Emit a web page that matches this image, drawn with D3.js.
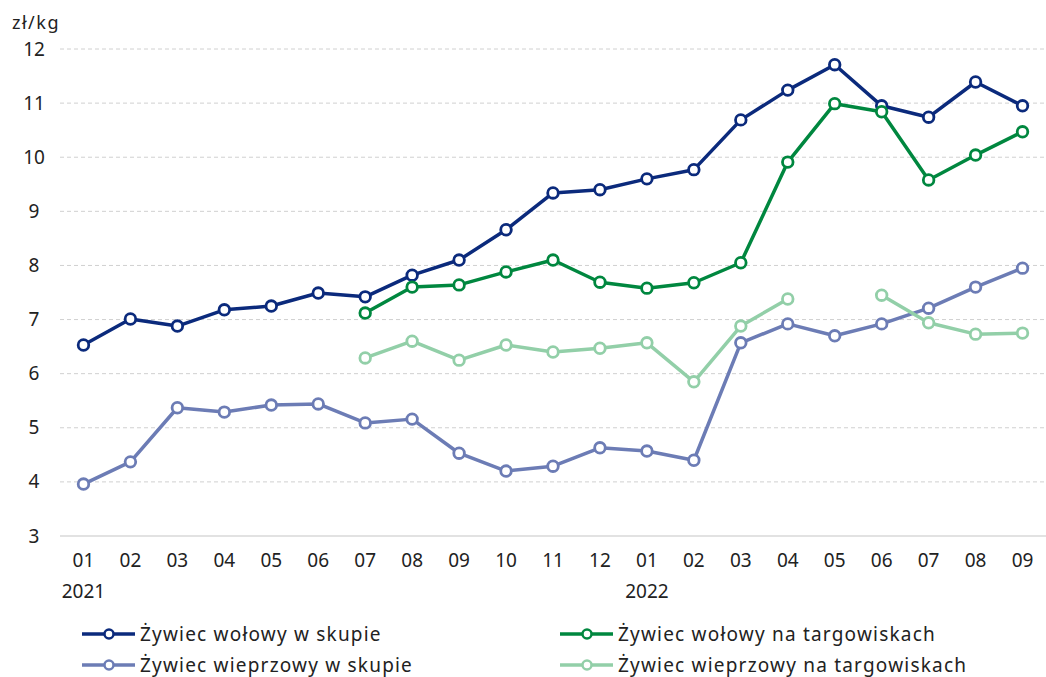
<!DOCTYPE html>
<html>
<head>
<meta charset="utf-8">
<script src="https://cdn.jsdelivr.net/npm/d3@7"></script>
<style>
  body { margin: 0; background: #fff; }
  text { font-family: "Noto Sans", "Open Sans", sans-serif; fill: #222; }
</style>
</head>
<body>
<svg id="chart"></svg>
<script>
const months = ["01","02","03","04","05","06","07","08","09","10","11","12","01","02","03","04","05","06","07","08","09"];
const years = {0: "2021", 12: "2022"};

const wolowySkup = [6.53,7.01,6.88,7.18,7.25,7.49,7.42,7.82,8.10,8.66,9.34,9.40,9.60,9.77,10.69,11.24,11.71,10.95,10.74,11.39,10.95];
const wolowyTarg = [null,null,null,null,null,null,7.12,7.60,7.64,7.88,8.10,7.69,7.58,7.68,8.05,9.91,10.99,10.84,9.58,10.04,10.47];
const wieprzowySkup = [3.96,4.37,5.37,5.29,5.42,5.44,5.09,5.16,4.53,4.20,4.29,4.63,4.57,4.40,6.57,6.92,6.70,6.92,7.21,7.60,7.95];
const wieprzowyTarg = [null,null,null,null,null,null,6.29,6.60,6.25,6.53,6.40,6.47,6.57,5.85,6.88,7.38,null,7.45,6.94,6.73,6.75];

const yTicks = [3,4,5,6,7,8,9,10,11,12];

const series = [
    { name: "Żywiec wołowy w skupie", values: wolowySkup, color: "#0b2a7c" },
    { name: "Żywiec wołowy na targowiskach", values: wolowyTarg, color: "#00873f" },
    { name: "Żywiec wieprzowy w skupie", values: wieprzowySkup, color: "#6c7cb5" },
    { name: "Żywiec wieprzowy na targowiskach", values: wieprzowyTarg, color: "#92cfa8" }
];

const width = 1046, height = 677;
const margin = { top: 49, right: 0, bottom: 141, left: 60 };

const svg = d3.select("#chart").attr("width", width).attr("height", height);

const x = d3.scaleBand()
    .domain(d3.range(months.length))
    .range([margin.left, width - margin.right])
    .padding(0);

const y = d3.scaleLinear()
    .domain([3, 12])
    .range([height - margin.bottom, margin.top]);

// grid
svg.append("g")
    .selectAll("line")
    .data(yTicks)
    .join("line")
    .attr("x1", margin.left)
    .attr("x2", width - margin.right)
    .attr("y1", d => y(d))
    .attr("y2", d => y(d))
    .attr("stroke", d => d === 3 ? "#d9d9d9" : "#d0d0d0")
    .attr("stroke-width", d => d === 3 ? 1.5 : 1)
    .attr("stroke-dasharray", d => d === 3 ? null : "4,3");

// y axis
const yAxis = svg.append("g")
    .attr("transform", `translate(${margin.left - 22},0)`)
    .call(d3.axisLeft(y).tickValues(yTicks).tickSize(0).tickPadding(0));
yAxis.select(".domain").remove();
yAxis.selectAll("text").style("font-size", "19px").attr("fill", "#222").attr("text-anchor", "middle").attr("dx", "-4");

svg.append("text")
    .attr("x", 12)
    .attr("y", 29)
    .style("font-size", "18px")
    .style("letter-spacing", "1.5px")
    .text("zł/kg");

// x axis
const xAxis = svg.append("g")
    .attr("transform", `translate(0,${height - margin.bottom})`)
    .call(d3.axisBottom(x).tickFormat(i => months[i]).tickSize(0).tickPadding(18));
xAxis.select(".domain").remove();
xAxis.selectAll("text").style("font-size", "19px").attr("fill", "#222");

svg.append("g")
    .selectAll("text")
    .data(Object.keys(years))
    .join("text")
    .attr("x", d => x(+d) + x.bandwidth() / 2)
    .attr("y", height - margin.bottom + 62)
    .attr("text-anchor", "middle")
    .style("font-size", "19px")
    .text(d => years[d]);

// lines
const line = d3.line()
    .defined(d => d != null)
    .x((d, i) => x(i) + x.bandwidth() / 2)
    .y(d => y(d));

series.forEach(s => {
    const g = svg.append("g");
    g.append("path")
        .datum(s.values)
        .attr("fill", "none")
        .attr("stroke", s.color)
        .attr("stroke-width", 3.5)
        .attr("stroke-linejoin", "round")
        .attr("d", line);
    g.selectAll("circle")
        .data(s.values.map((v, i) => ({ v, i })).filter(d => d.v != null))
        .join("circle")
        .attr("cx", d => x(d.i) + x.bandwidth() / 2)
        .attr("cy", d => y(d.v))
        .attr("r", 5.3)
        .attr("fill", "#fff")
        .attr("stroke", s.color)
        .attr("stroke-width", 2.8);
});

// legend
const legendPos = [[82, 634], [560, 634], [82, 665], [560, 665]];
series.forEach((s, k) => {
    const [lx, ly] = legendPos[k];
    const g = svg.append("g").attr("transform", `translate(${lx},${ly})`);
    g.append("line").attr("x1", 0).attr("x2", 53).attr("y1", 0).attr("y2", 0)
        .attr("stroke", s.color).attr("stroke-width", 3.5);
    g.append("circle").attr("cx", 27).attr("cy", 0).attr("r", 4.5)
        .attr("fill", "#fff").attr("stroke", s.color).attr("stroke-width", 2.5);
    g.append("text").attr("x", 58).attr("y", 0).attr("dy", "0.35em")
        .style("font-size", "19px")
        .style("letter-spacing", "1.2px")
        .text(s.name);
});
</script>
</body>
</html>
